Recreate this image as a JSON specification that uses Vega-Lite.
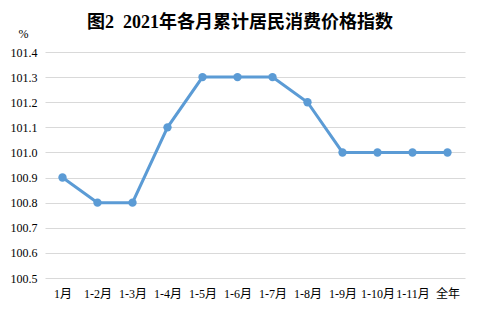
{
  "$schema": "https://vega.github.io/schema/vega-lite/v6.json",
  "width": 420,
  "height": 226,
  "autosize": {"type": "none"},
  "padding": {"left": 45, "top": 52, "right": 14, "bottom": 32},
  "background": "white",
  "title": {
    "text": "图2\u00a0\u00a02021年各月累计居民消费价格指数",
    "font": "Liberation Serif, Times New Roman, Noto Sans CJK SC, serif",
    "fontSize": 18,
    "fontWeight": "bold",
    "color": "#000000",
    "anchor": "middle",
    "frame": "group",
    "dx": -15,
    "dy": 27,
    "offset": 22
  },
  "data": {
    "values": [
      {"month": "1月", "value": 100.9},
      {"month": "1-2月", "value": 100.8},
      {"month": "1-3月", "value": 100.8},
      {"month": "1-4月", "value": 101.1},
      {"month": "1-5月", "value": 101.3},
      {"month": "1-6月", "value": 101.3},
      {"month": "1-7月", "value": 101.3},
      {"month": "1-8月", "value": 101.2},
      {"month": "1-9月", "value": 101.0},
      {"month": "1-10月", "value": 101.0},
      {"month": "1-11月", "value": 101.0},
      {"month": "全年", "value": 101.0}
    ]
  },
  "mark": {
    "type": "line",
    "color": "#5B9BD5",
    "strokeWidth": 3,
    "point": {"filled": true, "size": 70, "color": "#5B9BD5"}
  },
  "encoding": {
    "x": {
      "field": "month",
      "type": "ordinal",
      "sort": null,
      "scale": {"type": "point", "padding": 0.5},
      "axis": {
        "title": null,
        "labelAngle": 0,
        "domain": false,
        "ticks": false,
        "grid": false,
        "labelFont": "Liberation Serif, Times New Roman, Noto Sans CJK SC, serif",
        "labelFontSize": 12,
        "labelColor": "#000000",
        "labelPadding": 10
      }
    },
    "y": {
      "field": "value",
      "type": "quantitative",
      "scale": {"domain": [100.5, 101.4], "zero": false, "nice": false},
      "axis": {
        "values": [100.5, 100.6, 100.7, 100.8, 100.9, 101.0, 101.1, 101.2, 101.3, 101.4],
        "format": ".1f",
        "title": "%",
        "titleAngle": 0,
        "titleX": -22,
        "titleY": -19,
        "titleAlign": "center",
        "titleBaseline": "middle",
        "titleFont": "Liberation Serif, Times New Roman, serif",
        "titleFontSize": 12,
        "titleFontWeight": "normal",
        "titleColor": "#000000",
        "domain": false,
        "ticks": false,
        "gridColor": "#D9D9D9",
        "gridWidth": 1,
        "labelFont": "Liberation Serif, Times New Roman, serif",
        "labelFontSize": 12,
        "labelColor": "#000000",
        "labelPadding": 8
      }
    }
  },
  "config": {"view": {"stroke": null}}
}
